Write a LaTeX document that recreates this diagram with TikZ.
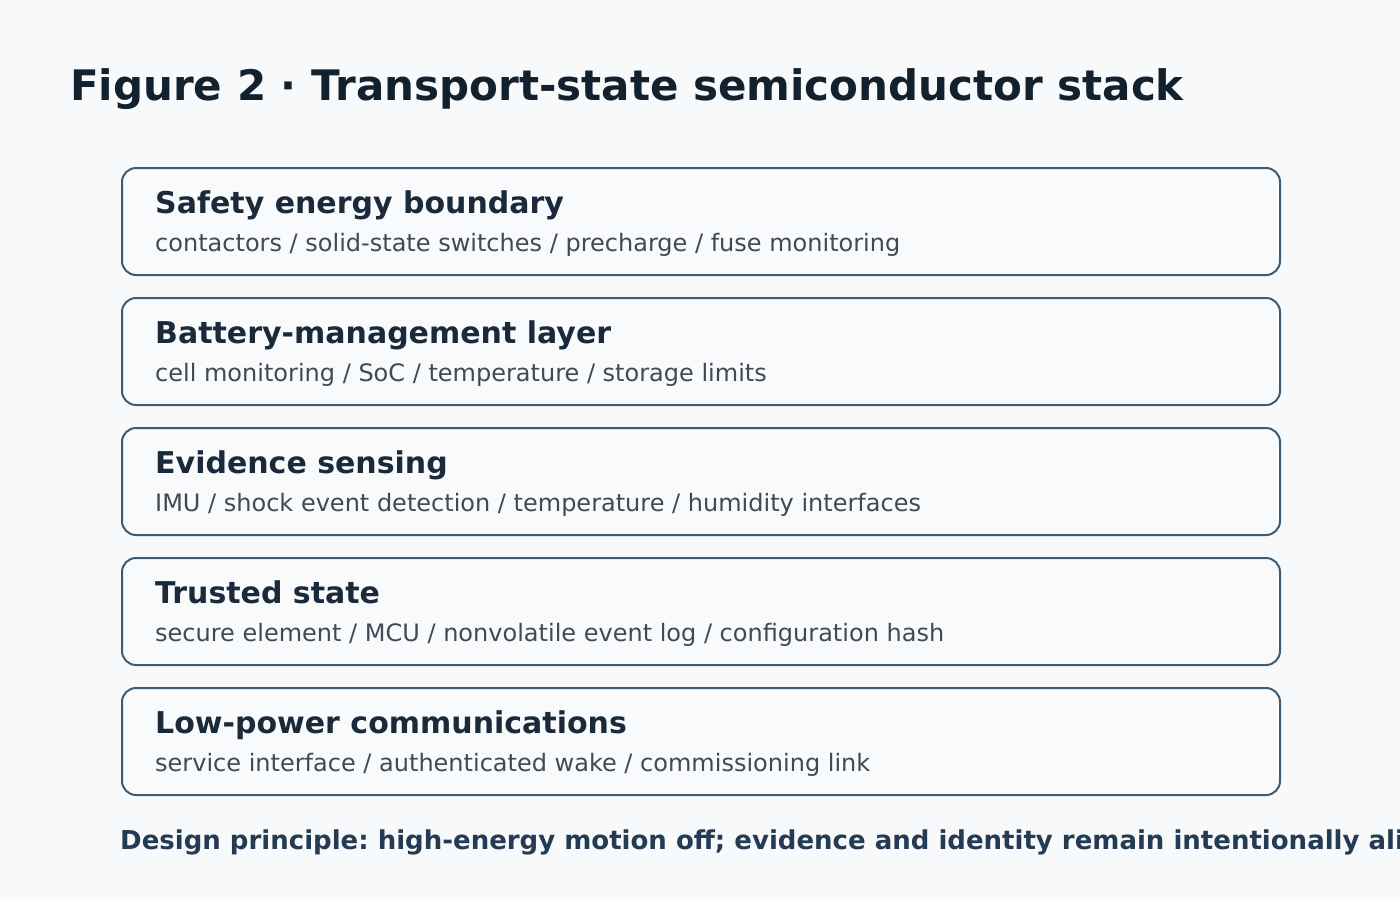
\documentclass[tikz,border=0pt]{standalone}
\usepackage{fontspec}
\setmainfont{DejaVu Sans}
\definecolor{bg}{HTML}{F7F9FB}
\definecolor{boxfill}{HTML}{F8FAFC}
\definecolor{boxline}{HTML}{3D5B73}
\definecolor{titlec}{HTML}{13212F}
\definecolor{headc}{HTML}{1A2A3A}
\definecolor{subc}{HTML}{3F4A56}
\definecolor{footc}{HTML}{243B53}
\tikzset{
  layerbox/.style={draw=boxline, fill=boxfill, line width=2pt, rounded corners=14pt,
    minimum width=1158pt, minimum height=107pt, inner sep=0pt, anchor=north west},
  headtxt/.style={anchor=base west, inner sep=0pt, text=headc, font=\fontsize{30}{34}\selectfont\bfseries},
  subtxt/.style={anchor=base west, inner sep=0pt, text=subc, font=\fontsize{24}{28}\selectfont},
}
\frenchspacing
\begin{document}
\frenchspacing
\begin{tikzpicture}[x=1pt,y=-1pt]
\useasboundingbox (0,0) rectangle (1400,900);
\clip (0,0) rectangle (1400,900);
\fill[bg] (0,0) rectangle (1400,900);
\node[anchor=base west, inner sep=0pt, text=titlec, font=\fontsize{42}{48}\selectfont\bfseries] (title) at (70,100) {Figure 2 · Transport-state semiconductor stack};
\foreach \i/\h/\s in {0/{Safety energy boundary}/{contactors / solid-state switches / precharge / fuse monitoring},
  1/{Battery-management layer}/{cell monitoring / SoC / temperature / storage limits},
  2/{Evidence sensing}/{IMU / shock event detection / temperature / humidity interfaces},
  3/{Trusted state}/{secure element / MCU / nonvolatile event log / configuration hash},
  4/{Low-power communications}/{service interface / authenticated wake / commissioning link}}{
  \node[layerbox] (box\i) at (121,{167+130*\i}) {};
  \node[headtxt] (head\i) at (155,{213+130*\i}) {\h};
  \node[subtxt] (sub\i) at (155,{251+130*\i}) {\s};
}
\node[anchor=base west, inner sep=0pt, text=footc, font=\fontsize{26}{30}\selectfont\bfseries] (foot) at (120,849) {Design principle: high-energy motion off; evidence and identity remain intentionally alive};
\end{tikzpicture}
\end{document}
